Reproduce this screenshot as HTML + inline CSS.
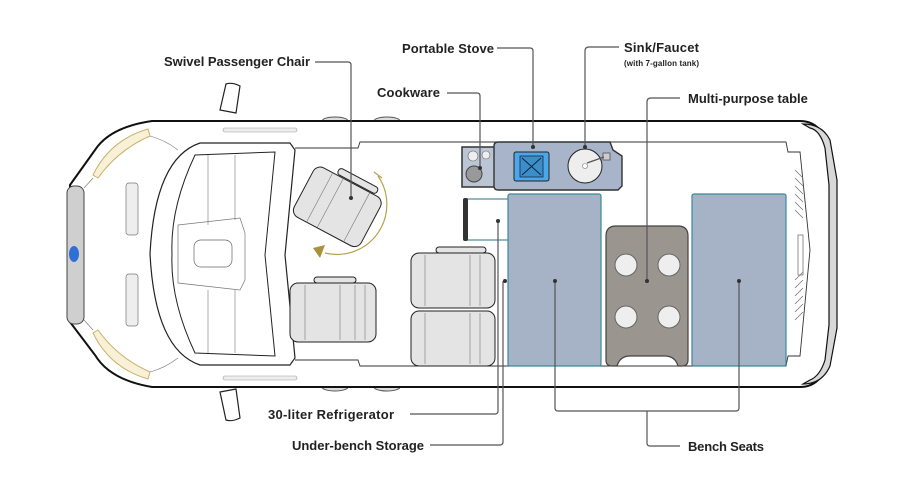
<!DOCTYPE html>
<html><head><meta charset="utf-8"><style>
body{margin:0;background:#fff;}
svg{display:block;font-family:"Liberation Sans",sans-serif;}
.l{font-weight:bold;font-size:13px;fill:#222;}
.ln{fill:none;stroke:#555;stroke-width:1.2;}
.s{fill:#e4e4e4;stroke:#222;stroke-width:1;}
.t{fill:none;stroke:#777;stroke-width:0.6;}
</style></head><body>
<svg width="900" height="500" viewBox="0 0 900 500">
<!-- mirrors -->
<path d="M226,84 Q232,82 240,86 L236,113 L220,110 Z" fill="#fff" stroke="#222" stroke-width="1.2"/>
<path d="M220,392 L236,389 L240,418 Q232,422 226,420 Z" fill="#fff" stroke="#222" stroke-width="1.2"/>
<!-- wheels -->
<ellipse cx="335" cy="121" rx="13" ry="4" fill="#ddd" stroke="#555"/>
<ellipse cx="387" cy="121" rx="13" ry="4" fill="#ddd" stroke="#555"/>
<ellipse cx="335" cy="387" rx="13" ry="4" fill="#ddd" stroke="#555"/>
<ellipse cx="387" cy="387" rx="13" ry="4" fill="#ddd" stroke="#555"/>
<!-- body -->
<path d="M152,121 L800,121 Q818,121 826,140 L832,200 L832,310 L826,368 Q818,387 800,387 L152,387 Q110,380 95,355 L70,322 L70,185 L95,150 Q110,127 152,121 Z" fill="#fff" stroke="#111" stroke-width="2"/>
<!-- rear bumper -->
<path d="M803,124 Q822,124 830,140 L837,180 L837,328 L830,366 Q822,384 803,384 L810,380 Q820,376 825,360 L829,325 L829,185 L825,148 Q820,130 810,128 Z" fill="#d8d8d8" stroke="#111" stroke-width="1.2"/>
<!-- front bumper -->
<rect x="67" y="186" width="17" height="138" rx="7" fill="#cfcfcf" stroke="#444"/>
<ellipse cx="74" cy="254" rx="5" ry="8" fill="#2f6fd6"/>
<!-- headlights -->
<path d="M93,175 Q110,140 148,129 L150,136 Q118,150 98,178 Z" fill="#f8f1d8" stroke="#c9b36a"/>
<path d="M93,333 Q110,368 148,379 L150,372 Q118,358 98,330 Z" fill="#f8f1d8" stroke="#c9b36a"/>
<path d="M84,188 L93,178 M84,320 L93,330 M150,136 Q165,140 178,150 M150,372 Q165,368 178,358" class="t" stroke="#333"/>
<!-- side trims -->
<rect x="223" y="128" width="74" height="4" rx="2" fill="#eee" stroke="#999" stroke-width="0.6"/>
<rect x="223" y="376" width="74" height="4" rx="2" fill="#eee" stroke="#999" stroke-width="0.6"/>
<!-- dash vents -->
<rect x="126" y="183" width="12" height="52" rx="3" fill="#eee" stroke="#777" stroke-width="0.7"/>
<rect x="126" y="274" width="12" height="52" rx="3" fill="#eee" stroke="#777" stroke-width="0.7"/>
<!-- cab -->
<path d="M200,143 L290,143 L295,150 L285,255 L295,358 L290,365 L200,365 Q155,350 150,254 Q155,158 200,143 Z" fill="#fff" stroke="#222" stroke-width="1.2"/>
<path d="M195,155 L275,152 L265,255 L275,356 L195,353 Q170,300 172,254 Q170,208 195,155 Z" fill="none" stroke="#222"/>
<path d="M178,225 L240,218 L245,233 L245,280 L240,290 L178,283 Z" fill="none" stroke="#777" stroke-width="0.7"/>
<rect x="194" y="240" width="38" height="27" rx="7" fill="#fff" stroke="#666" stroke-width="0.7"/>
<path d="M208,155 L208,225 M235,155 L235,220 M208,290 L208,353 M235,290 L235,353" class="t"/>
<!-- inner wall -->
<path d="M295,148 L358,148 L360,142 L786,142 L788,152 L800,152 L810,250 L800,356 L788,356 L786,366 L360,366 L358,360 L295,360" fill="none" stroke="#333" stroke-width="0.9"/>
<!-- rear vents -->
<g stroke="#777" stroke-width="0.8" fill="none">
<path d="M795,170 l8,8 M795,178 l8,8 M795,186 l8,8 M795,194 l8,8 M795,202 l8,8 M795,210 l8,8 M795,280 l8,-8 M795,288 l8,-8 M795,296 l8,-8 M795,304 l8,-8 M795,312 l8,-8 M795,320 l8,-8"/>
<rect x="798" y="235" width="5" height="40"/>
</g>
<!-- swivel chair -->
<g transform="rotate(28 336 205)">
<rect x="300" y="178" width="76" height="56" rx="8" class="s"/>
<rect x="322" y="170" width="44" height="7" rx="3" class="s"/>
<path d="M318,178 L318,234 M330,178 L330,234 M360,178 L360,234" class="t"/>
</g>
<!-- arc -->
<path d="M378,176 A50,50 0 0 1 325,253" fill="none" stroke="#b8a04a" stroke-width="1.2"/>
<path d="M374,172 L382,178" stroke="#b8a04a" stroke-width="1.2"/>
<path d="M313,248 L325,245 L320,258 Z" fill="#a8923a"/>
<!-- driver seat -->
<rect x="290" y="283" width="86" height="59" rx="8" class="s"/>
<rect x="314" y="277" width="42" height="6" rx="3" class="s"/>
<path d="M305,285 L305,340 M340,285 L340,340 M355,285 L355,340 M365,285 L365,340" class="t"/>
<!-- rear seats -->
<rect x="411" y="253" width="84" height="55" rx="8" class="s"/>
<rect x="411" y="311" width="84" height="55" rx="8" class="s"/>
<rect x="436" y="247" width="50" height="6" rx="3" class="s"/>
<path d="M425,255 L425,306 M470,255 L470,306 M480,255 L480,306 M425,313 L425,364 M470,313 L470,364 M480,313 L480,364" class="t"/>
<!-- cookware -->
<rect x="462" y="147" width="33" height="40" fill="#bcc5d3" stroke="#333" stroke-width="1.5"/>
<circle cx="473" cy="156" r="5" fill="#eee" stroke="#666" stroke-width="0.6"/>
<circle cx="486" cy="155" r="4" fill="#eee" stroke="#666" stroke-width="0.6"/>
<circle cx="474" cy="174" r="8" fill="#999" stroke="#444"/>
<!-- counter -->
<path d="M498,142 L610,142 L613,150 L622,156 L622,186 L618,190 L498,190 Q494,190 494,186 L494,146 Q494,142 498,142 Z" fill="#a7b4c9" stroke="#333" stroke-width="1.4"/>
<rect x="514" y="152" width="35" height="29" rx="2" fill="#4aa8e8" stroke="#222"/>
<rect x="520" y="156" width="23" height="21" fill="#3b8fc8" stroke="#224" stroke-width="0.8"/>
<path d="M522,158 L541,175 M541,158 L522,175" stroke="#124" stroke-width="1"/>
<circle cx="585" cy="166" r="17" fill="#eee" stroke="#222"/>
<circle cx="585" cy="166" r="2.5" fill="#fff" stroke="#777" stroke-width="0.6"/>
<rect x="603" y="153" width="7" height="7" fill="#ccc" stroke="#444" stroke-width="0.7"/>
<path d="M587,163 L604,157" stroke="#555" stroke-width="1.2"/>
<!-- fridge -->
<rect x="467" y="199" width="42" height="41" fill="#fff" stroke="#4a8a9a" stroke-width="1.2"/>
<rect x="463" y="198" width="5" height="43" rx="2" fill="#333"/>
<!-- benches -->
<rect x="508" y="194" width="93" height="172" rx="2" fill="#a6b2c6" stroke="#3a8a9a" stroke-width="1.2"/>
<rect x="692" y="194" width="94" height="172" rx="2" fill="#a6b2c6" stroke="#3a8a9a" stroke-width="1.2"/>
<!-- table -->
<path d="M616,226 L678,226 Q688,226 688,236 L688,360 Q688,366 682,366 L678,366 Q675,356 665,356 L630,356 Q620,356 617,366 L612,366 Q606,366 606,360 L606,236 Q606,226 616,226 Z" fill="#9b958f" stroke="#444" stroke-width="1.2"/>
<g fill="#eee" stroke="#666" stroke-width="1"><circle cx="626" cy="265" r="11"/><circle cx="669" cy="265" r="11"/><circle cx="626" cy="317" r="11"/><circle cx="669" cy="317" r="11"/></g>
<!-- leaders -->
<g class="ln">
<path d="M315,62 L348,62 Q351,62 351,65 L351,198"/>
<path d="M447,93 L477,93 Q480,93 480,96 L480,168"/>
<path d="M497,48 L530,48 Q533,48 533,51 L533,147"/>
<path d="M619,47 L589,47 Q585,47 585,51 L585,147"/>
<path d="M680,98 L651,98 Q647,98 647,102 L647,281"/>
<path d="M410,414 L495,414 Q498,414 498,411 L498,221"/>
<path d="M430,445 L500,445 Q503,445 503,442 L503,281"/>
<path d="M555,281 L555,408 Q555,411 558,411 L736,411 Q739,411 739,408 L739,281 M647,411 L647,443 Q647,446 650,446 L680,446"/>
</g>
<g fill="#333"><circle cx="351" cy="198" r="2"/><circle cx="480" cy="168" r="2"/><circle cx="533" cy="147" r="2"/><circle cx="585" cy="147" r="2"/><circle cx="647" cy="281" r="2"/><circle cx="498" cy="221" r="2"/><circle cx="505" cy="281" r="2"/><circle cx="555" cy="281" r="2"/><circle cx="739" cy="281" r="2"/></g>
<!-- labels -->
<text class="l" x="164" y="66" textLength="146">Swivel Passenger Chair</text>
<text class="l" x="377" y="97" textLength="63">Cookware</text>
<text class="l" x="402" y="53" textLength="92">Portable Stove</text>
<text class="l" x="624" y="52" textLength="75">Sink/Faucet</text>
<text x="624" y="66" font-size="8" font-weight="bold" fill="#222" textLength="75">(with 7-gallon tank)</text>
<text class="l" x="688" y="103" font-size="12">Multi-purpose table</text>
<text class="l" x="268" y="419" textLength="126">30-liter Refrigerator</text>
<text class="l" x="292" y="450" textLength="132">Under-bench Storage</text>
<text class="l" x="688" y="451" textLength="76">Bench Seats</text>
</svg>
</body></html>
